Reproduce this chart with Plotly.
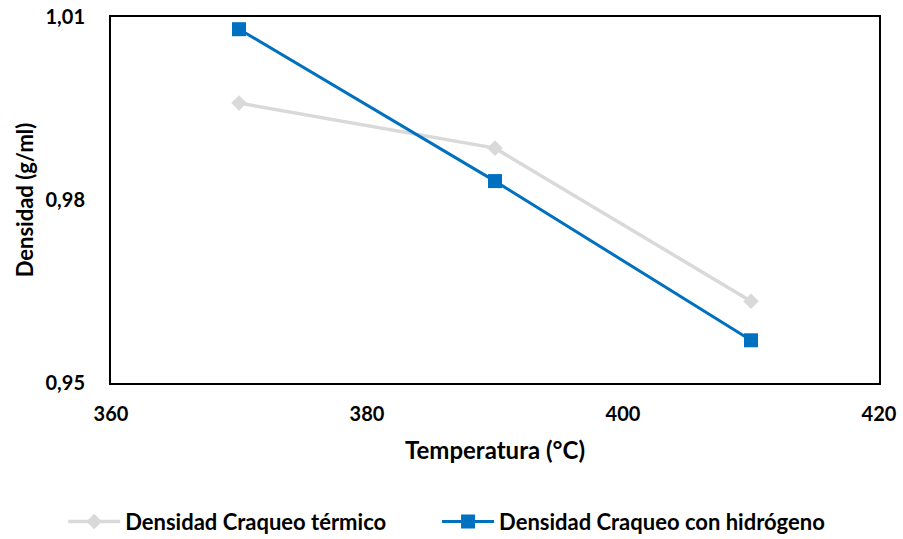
import plotly.graph_objects as go

# Temperatura de reacción (°C) y densidad del producto (g/ml)
temperatura = [370, 390, 410]
densidad_termico = [0.9959, 0.9885, 0.9634]
densidad_hidrogeno = [1.0080, 0.9831, 0.9570]

x_ticks = [360, 380, 400, 420]
y_ticks = [0.95, 0.98, 1.01]

FONT = "Lato"

fig = go.Figure()
fig.add_trace(go.Scatter(
    x=temperatura, y=densidad_termico, mode="lines+markers",
    name="Densidad Craqueo térmico", legend="legend",
    line=dict(color="#d9d9d9", width=3.5),
    marker=dict(symbol="diamond", size=12, color="#d9d9d9"),
))
fig.add_trace(go.Scatter(
    x=temperatura, y=densidad_hidrogeno, mode="lines+markers",
    name="Densidad Craqueo con hidrógeno", legend="legend2",
    line=dict(color="#0070c0", width=3),
    marker=dict(symbol="square", size=14, color="#0070c0"),
))

axis_common = dict(
    showline=True, linecolor="black", linewidth=2, mirror=True,
    showgrid=False, zeroline=False, ticks="",
    tickfont=dict(family=FONT, size=20, color="black", weight="bold"),
)

fig.update_xaxes(
    range=[360, 420], tickvals=x_ticks, ticklabelstandoff=12,
    title=dict(text="Temperatura (°C)", standoff=18,
               font=dict(family=FONT, size=24, color="black", weight="bold")),
    **axis_common,
)
fig.update_yaxes(
    range=[0.95, 1.01], tickvals=y_ticks, tickformat=".2f", ticklabelstandoff=20,
    title=dict(text="Densidad (g/ml)", standoff=6,
               font=dict(family=FONT, size=22, color="black", weight="bold")),
    **axis_common,
)

legend_common = dict(
    orientation="h", xref="container", xanchor="left",
    yref="container", y=0.032, yanchor="middle",
    font=dict(family=FONT, size=22, color="black", weight="bold"),
    itemwidth=52,
)

fig.update_layout(
    width=903, height=539,
    margin=dict(l=111, r=24, t=17, b=156, autoexpand=False),
    paper_bgcolor="white", plot_bgcolor="white",
    separators=",.",
    showlegend=True,
    legend=dict(x=0.070, **legend_common),
    legend2=dict(x=0.484, **legend_common),
)

fig.write_html("out.html")
